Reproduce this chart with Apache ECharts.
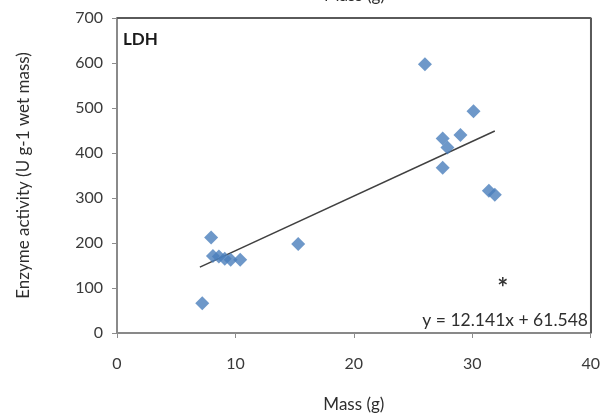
<!DOCTYPE html>
<html>
<head>
<meta charset="utf-8">
<script src="https://cdn.jsdelivr.net/npm/echarts@6/dist/echarts.min.js"></script>
<style>
  html, body { margin: 0; padding: 0; background: #fff; }
  #chart { width: 603px; height: 420px; }
</style>
</head>
<body>
<div id="chart"></div>
<script>
// LDH enzyme activity against body mass
const massG = [7.2, 7.95, 8.1, 8.6, 9.1, 9.6, 10.4, 15.3, 26.0, 27.5, 27.9, 27.5, 29.0, 30.1, 31.4, 31.9];
const activity = [66, 212, 171, 170, 165, 163, 163, 198, 597, 432, 412, 367, 440, 493, 316, 307];

// Least-squares fit reported on the chart
const slope = 12.141;
const intercept = 61.548;
const fitRange = [7.0, 31.9];

// Marked outlier
const flagged = [[32.4, 111]];

const xTicks = [0, 10, 20, 30, 40];
const yTicks = [0, 100, 200, 300, 400, 500, 600, 700];

const xMin = xTicks[0], xMax = xTicks[xTicks.length - 1];
const yMin = yTicks[0], yMax = yTicks[yTicks.length - 1];
const points = massG.map((m, i) => [m, activity[i]]);
const fitLine = fitRange.map(x => [x, slope * x + intercept]);

const FONT = 'Lato, "Open Sans", sans-serif';
const AXIS_GREY = '#8c8c8c';
const TEXT = '#2e2e2e';
const FRAME = '#5a5a5a';

const chart = echarts.init(document.getElementById('chart'), null, { renderer: 'canvas' });
chart.setOption({
  animation: false,
  backgroundColor: '#ffffff',
  textStyle: { fontFamily: FONT },
  grid: { left: 117, right: 9, top: 18, bottom: 87,
          show: true, borderColor: FRAME, borderWidth: 1.5, backgroundColor: 'transparent' },
  xAxis: {
    type: 'value', min: xMin, max: xMax, interval: 10,
    name: 'Mass (g)', nameLocation: 'middle', nameGap: 63,
    nameTextStyle: { fontSize: 17, color: TEXT, fontFamily: FONT },
    axisLine: { show: true, lineStyle: { color: AXIS_GREY, width: 1.5 } },
    axisTick: { show: true, length: 5, lineStyle: { color: AXIS_GREY } },
    axisLabel: { margin: 23, fontSize: 16, color: '#3a3a3a', fontFamily: FONT },
    splitLine: { show: false }
  },
  yAxis: {
    type: 'value', min: yMin, max: yMax, interval: 100,
    name: 'Enzyme activity (U g-1 wet mass)', nameLocation: 'middle', nameGap: 85,
    nameTextStyle: { fontSize: 17, color: TEXT, fontFamily: FONT },
    axisLine: { show: true, lineStyle: { color: AXIS_GREY, width: 1.5 } },
    axisTick: { show: true, length: 5, lineStyle: { color: AXIS_GREY } },
    axisLabel: { margin: 14, fontSize: 16, color: '#3a3a3a', fontFamily: FONT },
    splitLine: { show: false }
  },
  series: [
    {
      type: 'scatter', data: points, symbol: 'diamond', symbolSize: 14,
      itemStyle: { color: '#4a7ebb' }, z: 3,
      // top and right edges of the plot frame
      markLine: {
        silent: true, symbol: 'none', label: { show: false }, animation: false,
        lineStyle: { color: FRAME, width: 2, type: 'solid' },
        data: [{ yAxis: yMax }, { xAxis: xMax }]
      }
    },
    {
      type: 'line', data: fitLine, symbol: 'none',
      lineStyle: { color: '#404040', width: 1.5 }, z: 2
    },
    {
      type: 'scatter', data: flagged, symbol: 'circle', symbolSize: 1,
      itemStyle: { color: 'rgba(0,0,0,0)' },
      label: {
        show: true, position: 'inside', formatter: '*',
        fontSize: 26, fontWeight: 'bold', color: '#000', offset: [2, 6]
      }, z: 4
    }
  ],
  graphic: [
    { type: 'text', left: 123, top: 31,
      style: { text: 'LDH', font: 'bold 17px ' + FONT, fill: '#1a1a1a' } },
    { type: 'text', right: 15, top: 311,
      style: { text: 'y = 12.141x + 61.548', font: '17.5px ' + FONT, fill: TEXT } },
    { type: 'text', left: 324, top: -13,
      style: { text: 'Mass (g)', font: '17px ' + FONT, fill: TEXT } }
  ]
});
</script>
</body>
</html>
